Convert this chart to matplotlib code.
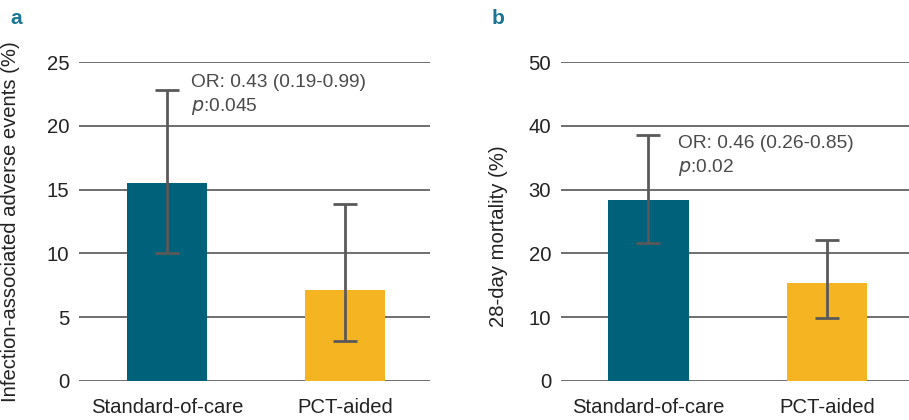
import numpy as np
import matplotlib.pyplot as plt

plt.rcParams['font.family'] = ['Liberation Sans', 'DejaVu Sans']

groups = ["Standard-of-care", "PCT-aided"]

# panel a: infection-associated adverse events (%)
ae_values = [15.5, 7.1]
ae_low = [10.0, 3.1]
ae_high = [22.8, 13.9]

# panel b: 28-day mortality (%)
mort_values = [28.4, 15.4]
mort_low = [21.6, 9.9]
mort_high = [38.6, 22.1]

bar_colors = ["#00627a", "#f5b422"]
grid_color = "#555555"
err_color = "#595959"
text_color = "#222222"


def draw_panel(ax, values, low, high, ymax, step, ylabel, note, note_xy, xlim):
    x = np.arange(len(groups))
    vals = np.array(values)
    yerr = [vals - np.array(low), np.array(high) - vals]
    for t in np.arange(0, ymax + step, step):
        ax.axhline(t, color=grid_color, lw=1.2, zorder=0)
    ax.bar(x, vals, width=0.45, color=bar_colors, zorder=2)
    ax.errorbar(x, vals, yerr=yerr, fmt="none", ecolor=err_color,
                elinewidth=2, capsize=8.5, capthick=2, zorder=3)
    ax.set_xlim(*xlim)
    ax.set_ylim(0, ymax)
    ax.set_yticks(np.arange(0, ymax + step, step))
    ax.set_xticks(x)
    ax.set_xticklabels(groups, fontsize=14.6, color=text_color)
    ax.tick_params(axis="y", length=0, pad=7, labelsize=14.6,
                   labelcolor=text_color)
    ax.tick_params(axis="x", length=0, pad=12)
    for s in ax.spines.values():
        s.set_visible(False)
    ax.set_ylabel(ylabel, fontsize=14.6, color=text_color)
    nx, ny = note_xy
    ax.text(nx, ny, note[0], fontsize=13.8, color="#4a4a4a",
            va="center", ha="left")
    ax.text(nx, ny - step * 0.375, r"$\it{p}$" + note[1], fontsize=13.8,
            color="#4a4a4a", va="center", ha="left")


fig = plt.figure(figsize=(9.09, 4.2), dpi=100)
ax1 = fig.add_axes([0.0869, 0.0929, 0.386, 0.759])
ax2 = fig.add_axes([0.617, 0.0929, 0.383, 0.759])

draw_panel(ax1, ae_values, ae_low, ae_high, 25, 5,
           "Infection-associated adverse events (%)",
           ("OR: 0.43 (0.19-0.99)", ":0.045"), (0.135, 23.4), (-0.494, 1.478))
draw_panel(ax2, mort_values, mort_low, mort_high, 50, 10,
           "28-day mortality (%)",
           ("OR: 0.46 (0.26-0.85)", ":0.02"), (0.168, 37.3), (-0.49, 1.46))

ax1.yaxis.set_label_coords(-0.168, 0.50)
ax2.yaxis.set_label_coords(-0.152, 0.455)

fig.text(0.011, 0.955, "a", fontsize=15, fontweight="bold", color="#1b7494",
         va="center")
fig.text(0.541, 0.955, "b", fontsize=15, fontweight="bold", color="#1b7494",
         va="center")

fig.savefig("out.png", dpi=100)
